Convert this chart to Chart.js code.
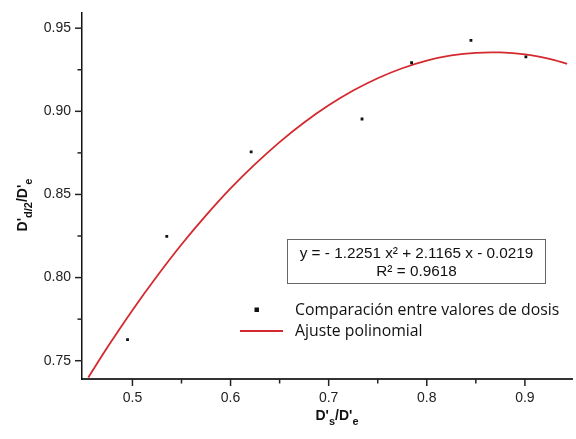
<!DOCTYPE html>
<html>
<head>
<meta charset="utf-8">
<script src="https://cdn.jsdelivr.net/npm/chart.js@4.4.1/dist/chart.umd.min.js"></script>
<style>
html,body{margin:0;padding:0;background:#fff;}
#wrap{width:576px;height:439px;position:relative;}
</style>
</head>
<body>
<div id="wrap"><canvas id="c"></canvas></div>
<script>
// measured data (D's/D'e vs D'd/2/D'e)
const pointsX = [0.495, 0.535, 0.621, 0.734, 0.7845, 0.845, 0.901];
const pointsY = [0.7627, 0.8248, 0.8756, 0.8954, 0.9292, 0.9427, 0.9327];
// polynomial fit curve
const fitX = [0.455, 0.475, 0.50, 0.525, 0.55, 0.575, 0.60, 0.625, 0.65, 0.675, 0.70, 0.725, 0.75, 0.775, 0.80, 0.825, 0.85, 0.875, 0.90, 0.925, 0.943];
const fitY = [0.7399, 0.7585, 0.7804, 0.8008, 0.8199, 0.8374, 0.8536, 0.8682, 0.8815, 0.8933, 0.9036, 0.9125, 0.9199, 0.9259, 0.9305, 0.9336, 0.9352, 0.9354, 0.9342, 0.9315, 0.9286];
// tick labels
const xMajor = [0.5, 0.6, 0.7, 0.8, 0.9];
const xMinor = [0.55, 0.65, 0.75, 0.85];
const yMajor = [0.75, 0.80, 0.85, 0.90, 0.95];
const yMinor = [0.775, 0.825, 0.875, 0.925];
const legendLabels = ['Comparación entre valores de dosis', 'Ajuste polinomial'];
const eqLines = ['y = - 1.2251 x\u00B2 + 2.1165 x - 0.0219', 'R\u00B2 = 0.9618'];

const TICK_FONT = {family: "'Liberation Sans', Arial, sans-serif", size: 14};
const RED = '#d42a2f';

const decor = {
  id: 'decor',
  afterDraw(chart) {
    const ctx = chart.ctx;
    const xs = chart.scales.x, ys = chart.scales.y;
    const ca = chart.chartArea;
    ctx.save();
    // major + minor tick marks
    ctx.strokeStyle = '#222';
    ctx.lineWidth = 1.5;
    xMajor.forEach(v => { const p = xs.getPixelForValue(v); ctx.beginPath(); ctx.moveTo(p, ca.bottom); ctx.lineTo(p, ca.bottom + 7); ctx.stroke(); });
    xMinor.forEach(v => { const p = xs.getPixelForValue(v); ctx.beginPath(); ctx.moveTo(p, ca.bottom); ctx.lineTo(p, ca.bottom + 4.5); ctx.stroke(); });
    yMajor.forEach(v => { const p = ys.getPixelForValue(v); ctx.beginPath(); ctx.moveTo(ca.left, p); ctx.lineTo(ca.left - 7, p); ctx.stroke(); });
    yMinor.forEach(v => { const p = ys.getPixelForValue(v); ctx.beginPath(); ctx.moveTo(ca.left, p); ctx.lineTo(ca.left - 4.5, p); ctx.stroke(); });

    // axis titles with subscripts
    const mainF = "bold 14px 'Liberation Sans', Arial, sans-serif";
    const subF = "bold 11px 'Liberation Sans', Arial, sans-serif";
    function drawParts(parts, cx, baseY) {
      let total = 0;
      parts.forEach(p => { ctx.font = p[1] ? subF : mainF; total += ctx.measureText(p[0]).width; });
      let x = cx - total / 2;
      parts.forEach(p => {
        ctx.font = p[1] ? subF : mainF;
        ctx.fillText(p[0], x, baseY + (p[1] ? 5 : 0));
        x += ctx.measureText(p[0]).width;
      });
    }
    ctx.fillStyle = '#111';
    ctx.textBaseline = 'alphabetic';
    ctx.textAlign = 'left';
    drawParts([["D'", false], ['s', true], ["/D'", false], ['e', true]], 337, 420);
    ctx.save();
    ctx.translate(27, 205);
    ctx.rotate(-Math.PI / 2);
    drawParts([["D'", false], ['d/2', true], ["/D'", false], ['e', true]], 0, 0);
    ctx.restore();

    // equation box
    ctx.strokeStyle = '#666';
    ctx.lineWidth = 1;
    ctx.strokeRect(287.5, 239.5, 258, 44);
    ctx.font = "15.3px 'Liberation Sans', Arial, sans-serif";
    ctx.textAlign = 'center';
    ctx.fillStyle = '#111';
    ctx.fillText(eqLines[0], 416.5, 258);
    ctx.fillText(eqLines[1], 416.5, 276);

    // legend
    ctx.textAlign = 'left';
    ctx.textBaseline = 'middle';
    ctx.font = "15.8px 'Open Sans', 'Noto Sans', sans-serif";
    ctx.fillStyle = '#111';
    ctx.fillRect(254.5, 307.5, 4.5, 4.5);
    ctx.fillText(legendLabels[0], 295, 310);
    ctx.strokeStyle = RED;
    ctx.lineWidth = 1.8;
    ctx.beginPath(); ctx.moveTo(240, 331); ctx.lineTo(283, 331); ctx.stroke();
    ctx.fillText(legendLabels[1], 295, 331);
    ctx.restore();
  }
};

new Chart(document.getElementById('c'), {
  type: 'scatter',
  data: {
    datasets: [
      {
        label: legendLabels[0],
        data: pointsX.map((x, i) => ({x: x, y: pointsY[i]})),
        pointStyle: 'rect',
        pointRadius: 2,
        pointBackgroundColor: '#111',
        pointBorderColor: '#111',
        pointBorderWidth: 0,
        showLine: false,
        order: 1
      },
      {
        label: legendLabels[1],
        data: fitX.map((x, i) => ({x: x, y: fitY[i]})),
        showLine: true,
        borderColor: RED,
        borderWidth: 1.8,
        pointRadius: 0,
        tension: 0.3,
        fill: false,
        order: 2
      }
    ]
  },
  options: {
    responsive: true,
    maintainAspectRatio: false,
    animation: false,
    layout: {padding: {top: 10, right: 1, left: 0, bottom: 0}},
    plugins: {legend: {display: false}, tooltip: {enabled: false}},
    scales: {
      x: {
        type: 'linear',
        min: 0.4486,
        max: 0.948,
        afterBuildTicks: s => { s.ticks = xMajor.map(v => ({value: v})); },
        afterFit: s => { s.height = 60; },
        ticks: {
          callback: v => v.toFixed(1),
          font: TICK_FONT,
          color: '#222',
          padding: 4,
          maxRotation: 0,
          autoSkip: false
        },
        grid: {display: false, drawTicks: true, tickLength: 7},
        border: {display: true, color: '#333', width: 2}
      },
      y: {
        type: 'linear',
        min: 0.739,
        max: 0.9595,
        afterBuildTicks: s => { s.ticks = yMajor.map(v => ({value: v})); },
        afterFit: s => { s.width = 82; },
        ticks: {
          callback: v => v.toFixed(2),
          font: TICK_FONT,
          color: '#222',
          padding: 4,
          autoSkip: false
        },
        grid: {display: false, drawTicks: true, tickLength: 7},
        border: {display: true, color: '#111', width: 1.5}
      }
    }
  },
  plugins: [decor]
});
</script>
</body>
</html>
